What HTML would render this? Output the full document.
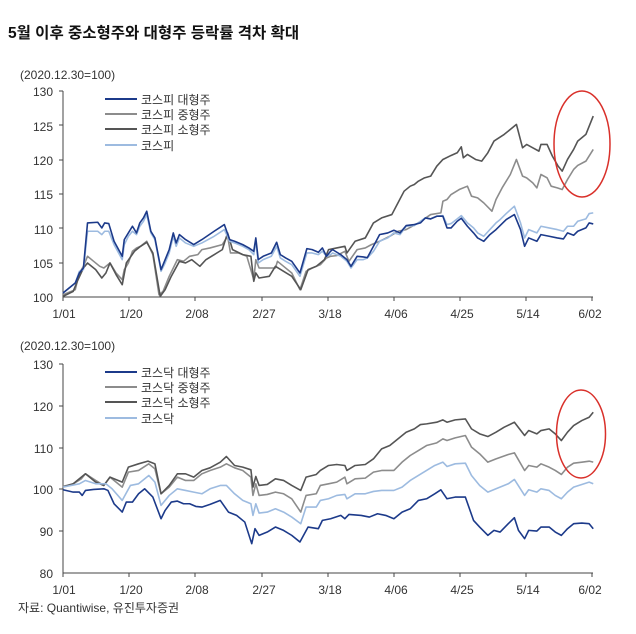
<!DOCTYPE html>
<html><head><meta charset="utf-8"><style>
html,body{margin:0;padding:0;background:#fff;}
svg{display:block;font-family:"Liberation Sans","Noto Sans CJK KR",sans-serif;}
</style></head><body>
<svg width="636" height="634" viewBox="0 0 636 634" xmlns="http://www.w3.org/2000/svg">
<text x="8" y="38" font-size="15.5" font-weight="bold" fill="#111">5월 이후 중소형주와 대형주 등락률 격차 확대</text>

<!-- TOP CHART -->
<text x="20" y="79" font-size="12" fill="#333">(2020.12.30=100)</text>
<g font-size="12" fill="#333" text-anchor="end">
<text x="53" y="96">130</text><text x="53" y="131">125</text><text x="53" y="165">120</text><text x="53" y="199">115</text><text x="53" y="234">110</text><text x="53" y="268">105</text><text x="53" y="302">100</text>
</g>
<g stroke="#444" stroke-width="1">
<line x1="63" y1="91" x2="63" y2="297"/><line x1="63" y1="297" x2="593" y2="297"/>
<line x1="59" y1="91" x2="63" y2="91"/><line x1="59" y1="125" x2="63" y2="125"/><line x1="59" y1="160" x2="63" y2="160"/><line x1="59" y1="194" x2="63" y2="194"/><line x1="59" y1="228" x2="63" y2="228"/><line x1="59" y1="263" x2="63" y2="263"/>
<line x1="63" y1="297" x2="63" y2="301"/><line x1="129" y1="297" x2="129" y2="301"/><line x1="195" y1="297" x2="195" y2="301"/><line x1="262" y1="297" x2="262" y2="301"/><line x1="328" y1="297" x2="328" y2="301"/><line x1="394" y1="297" x2="394" y2="301"/><line x1="460" y1="297" x2="460" y2="301"/><line x1="526" y1="297" x2="526" y2="301"/><line x1="592" y1="297" x2="592" y2="301"/>
</g>
<g font-size="12" fill="#333" text-anchor="middle">
<text x="64" y="318">1/01</text><text x="131" y="318">1/20</text><text x="197" y="318">2/08</text><text x="264" y="318">2/27</text><text x="330" y="318">3/18</text><text x="396" y="318">4/06</text><text x="462" y="318">4/25</text><text x="528" y="318">5/14</text><text x="590" y="318">6/02</text>
</g>
<g transform="matrix(0.4085,0,0,0.3339,-2.36,59.3)" fill="none" stroke-linejoin="round">
<polyline vector-effect="non-scaling-stroke" stroke="#8c8c8c" stroke-width="1.6" points="160,705 190,690 200,640 210,620 220,590 235,605 250,620 260,625 275,610 290,640 305,660 310,630 320,610 330,575 340,565 350,560 365,545 380,585 395,705 405,695 420,650 440,600 455,605 470,590 490,585 500,570 520,565 550,555 563,530 570,580 590,580 610,590 627,660 632,600 640,625 660,625 680,625 685,605 700,620 720,640 740,690 755,635 770,625 790,615 805,595 815,590 830,588 850,575 860,605 880,570 900,565 915,555 935,545 960,530 980,515 1000,510 1030,490 1060,465 1085,460 1090,425 1100,420 1110,405 1130,390 1150,380 1160,410 1175,415 1190,430 1210,455 1220,420 1235,385 1255,345 1270,300 1285,350 1295,355 1310,370 1320,385 1330,345 1345,355 1355,380 1370,385 1382,390 1395,360 1410,330 1420,318 1440,305 1458,270"/>
<polyline vector-effect="non-scaling-stroke" stroke="#555" stroke-width="1.6" points="160,710 185,695 195,665 210,625 220,610 240,630 255,655 265,640 275,610 290,645 305,675 315,610 335,575 350,560 365,548 380,580 398,710 410,690 425,650 445,605 460,610 475,600 495,620 510,600 530,585 550,570 563,520 575,570 600,585 620,590 627,665 632,640 640,655 665,650 680,620 700,635 720,650 742,690 760,630 780,620 800,600 810,570 830,565 850,560 855,580 875,545 900,535 920,490 940,475 965,465 980,430 995,395 1010,380 1020,375 1030,365 1045,355 1060,350 1075,320 1090,300 1110,288 1125,280 1135,262 1140,295 1150,285 1170,300 1185,305 1200,280 1215,245 1240,225 1270,195 1285,265 1295,255 1310,265 1325,275 1330,255 1345,255 1358,290 1372,320 1382,335 1395,300 1410,270 1420,245 1440,225 1458,170"/>
<polyline vector-effect="non-scaling-stroke" stroke="#9dbbe0" stroke-width="1.6" points="160,700 190,670 200,635 210,630 220,515 245,515 255,525 262,515 272,515 285,555 305,600 310,555 320,530 330,515 340,525 348,500 357,485 365,465 375,520 385,540 400,635 410,610 420,580 430,530 437,560 445,535 460,550 480,560 500,550 530,530 555,510 568,545 580,550 600,560 615,570 627,585 632,545 638,610 650,600 670,590 683,560 692,595 705,605 720,615 740,650 757,580 770,580 785,585 795,575 805,590 815,585 820,580 840,590 855,605 865,625 880,600 895,600 905,595 920,575 935,545 955,535 970,520 985,525 1000,500 1020,498 1035,485 1047,475 1060,478 1075,470 1090,468 1100,495 1110,492 1125,478 1135,468 1150,490 1165,505 1175,520 1190,530 1205,510 1220,490 1230,480 1245,462 1265,440 1280,490 1290,535 1300,510 1320,520 1330,500 1350,505 1370,510 1385,515 1395,500 1410,500 1420,485 1440,478 1448,462 1458,460"/>
<polyline vector-effect="non-scaling-stroke" stroke="#1c3a8a" stroke-width="1.6" points="160,700 190,670 200,640 210,625 220,490 245,488 255,505 262,490 272,492 285,545 305,590 310,540 320,520 330,500 340,520 348,490 357,475 365,455 375,515 385,535 400,630 410,600 420,570 430,520 437,550 445,525 460,540 480,555 500,540 530,515 555,495 568,540 580,545 600,555 615,565 627,575 632,535 638,600 650,590 670,580 683,548 692,585 705,595 720,605 740,640 757,567 770,570 785,578 795,565 805,590 815,575 820,570 840,585 855,600 865,620 880,590 895,592 905,594 920,560 935,525 955,520 970,512 985,520 1000,498 1020,495 1035,490 1047,475 1060,478 1075,470 1090,470 1100,505 1110,505 1125,485 1135,476 1150,500 1165,520 1175,535 1190,545 1205,525 1220,510 1230,498 1245,480 1265,465 1280,510 1290,560 1300,535 1320,545 1330,525 1350,530 1370,535 1385,538 1395,520 1410,527 1420,515 1440,505 1448,490 1458,493"/>
</g>
<ellipse cx="582" cy="144" rx="28" ry="53" fill="none" stroke="#d9302a" stroke-width="1.5"/>
<g stroke-width="2">
<line x1="105" y1="99" x2="137" y2="99" stroke="#1c3a8a"/><line x1="105" y1="114" x2="137" y2="114" stroke="#8c8c8c"/><line x1="105" y1="129" x2="137" y2="129" stroke="#555"/><line x1="105" y1="145" x2="137" y2="145" stroke="#9dbbe0"/>
</g>
<g font-size="12" fill="#333">
<text x="141" y="104">코스피 대형주</text><text x="141" y="119">코스피 중형주</text><text x="141" y="134">코스피 소형주</text><text x="141" y="150">코스피</text>
</g>

<!-- BOTTOM CHART -->
<text x="20" y="350" font-size="12" fill="#333">(2020.12.30=100)</text>
<g font-size="12" fill="#333" text-anchor="end">
<text x="53" y="369">130</text><text x="53" y="411">120</text><text x="53" y="453">110</text><text x="53" y="494">100</text><text x="53" y="536">90</text><text x="53" y="578">80</text>
</g>
<g stroke="#444" stroke-width="1">
<line x1="63" y1="364" x2="63" y2="573"/><line x1="63" y1="573" x2="593" y2="573"/>
<line x1="59" y1="364" x2="63" y2="364"/><line x1="59" y1="406" x2="63" y2="406"/><line x1="59" y1="448" x2="63" y2="448"/><line x1="59" y1="489" x2="63" y2="489"/><line x1="59" y1="531" x2="63" y2="531"/>
<line x1="63" y1="573" x2="63" y2="577"/><line x1="129" y1="573" x2="129" y2="577"/><line x1="195" y1="573" x2="195" y2="577"/><line x1="262" y1="573" x2="262" y2="577"/><line x1="328" y1="573" x2="328" y2="577"/><line x1="394" y1="573" x2="394" y2="577"/><line x1="460" y1="573" x2="460" y2="577"/><line x1="526" y1="573" x2="526" y2="577"/><line x1="592" y1="573" x2="592" y2="577"/>
</g>
<g font-size="12" fill="#333" text-anchor="middle">
<text x="64" y="594">1/01</text><text x="131" y="594">1/20</text><text x="197" y="594">2/08</text><text x="264" y="594">2/27</text><text x="330" y="594">3/18</text><text x="396" y="594">4/06</text><text x="462" y="594">4/25</text><text x="528" y="594">5/14</text><text x="590" y="594">6/02</text>
</g>
<g transform="matrix(0.4085,0,0,0.3328,-2.36,330.7)" fill="none" stroke-linejoin="round">
<polyline vector-effect="non-scaling-stroke" stroke="#8c8c8c" stroke-width="1.6" points="160,468 185,460 205,445 215,430 240,450 260,465 275,440 305,470 320,425 345,420 370,400 385,415 400,490 420,470 440,440 460,450 480,450 500,430 520,420 545,410 560,400 580,412 600,420 620,440 625,495 632,460 640,495 660,492 680,485 700,490 720,505 742,545 755,495 780,490 790,465 810,460 830,455 850,440 855,460 875,445 900,443 920,425 940,420 970,420 990,395 1010,375 1030,360 1050,345 1075,337 1090,325 1100,330 1120,322 1145,315 1160,350 1180,370 1200,395 1220,385 1250,372 1265,367 1290,420 1300,405 1320,410 1330,400 1350,410 1365,420 1380,432 1395,410 1410,398 1430,395 1448,392 1458,395"/>
<polyline vector-effect="non-scaling-stroke" stroke="#555" stroke-width="1.6" points="160,470 185,460 200,445 215,430 240,455 260,465 275,440 305,455 320,410 345,400 368,392 385,400 400,490 420,465 440,430 460,430 480,440 500,420 520,412 545,395 560,378 580,405 600,410 620,418 625,470 632,438 640,465 660,462 680,445 700,450 720,465 742,480 755,440 780,432 790,420 810,405 830,402 850,405 855,420 875,405 900,402 920,385 940,355 960,345 980,325 1000,305 1020,295 1035,282 1050,280 1075,275 1090,268 1100,275 1120,268 1145,265 1160,295 1180,310 1200,318 1220,305 1240,290 1265,275 1290,315 1300,300 1320,310 1330,300 1350,295 1365,310 1380,330 1395,305 1410,285 1430,270 1448,260 1458,245"/>
<polyline vector-effect="non-scaling-stroke" stroke="#9dbbe0" stroke-width="1.6" points="160,470 180,465 200,460 215,450 240,460 265,460 280,475 305,510 325,465 345,460 370,435 385,455 400,525 420,495 440,475 460,480 480,485 500,490 520,475 545,465 560,465 580,490 600,510 620,520 625,555 632,520 640,548 660,545 680,535 700,545 720,560 742,580 755,530 780,530 790,510 810,505 830,495 850,492 855,505 875,490 900,490 920,483 940,480 970,480 990,470 1010,450 1030,435 1050,420 1070,405 1090,395 1100,408 1120,400 1145,398 1160,435 1180,465 1200,485 1220,475 1250,460 1265,447 1290,495 1300,478 1320,485 1330,475 1350,480 1365,495 1380,505 1395,485 1410,470 1430,462 1448,455 1458,460"/>
<polyline vector-effect="non-scaling-stroke" stroke="#1c3a8a" stroke-width="1.6" points="160,478 185,485 200,485 207,495 215,480 235,477 260,475 270,480 285,520 305,545 315,515 330,515 345,490 360,475 380,500 400,565 410,540 425,515 440,512 455,520 470,520 485,528 500,530 520,522 545,510 565,545 585,555 605,575 622,640 630,595 640,615 660,605 680,590 700,600 720,615 740,635 760,590 785,595 795,570 815,565 840,555 850,565 860,552 890,555 910,560 930,550 950,555 970,565 990,545 1010,535 1030,510 1050,505 1070,490 1085,478 1100,505 1120,500 1145,500 1165,570 1180,590 1200,615 1215,600 1230,605 1250,580 1265,562 1275,600 1290,625 1300,600 1320,602 1330,590 1350,590 1365,605 1380,615 1395,595 1410,580 1430,578 1448,580 1458,595"/>
</g>
<ellipse cx="581" cy="434" rx="24.5" ry="44" fill="none" stroke="#d9302a" stroke-width="1.5"/>
<g stroke-width="2">
<line x1="105" y1="372" x2="137" y2="372" stroke="#1c3a8a"/><line x1="105" y1="387" x2="137" y2="387" stroke="#8c8c8c"/><line x1="105" y1="402" x2="137" y2="402" stroke="#555"/><line x1="105" y1="418" x2="137" y2="418" stroke="#9dbbe0"/>
</g>
<g font-size="12" fill="#333">
<text x="141" y="377">코스닥 대형주</text><text x="141" y="392">코스닥 중형주</text><text x="141" y="407">코스닥 소형주</text><text x="141" y="423">코스닥</text>
</g>
<text x="18" y="612" font-size="12" fill="#333">자료: Quantiwise, 유진투자증권</text>
</svg>
</body></html>
